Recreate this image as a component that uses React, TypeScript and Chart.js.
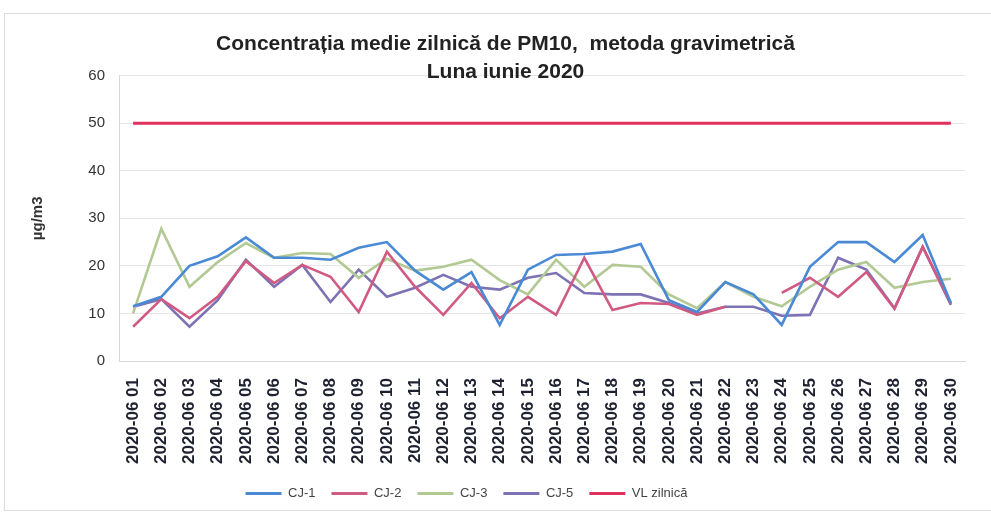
import React, { useEffect, useRef } from "react";
import { Chart, registerables } from "chart.js";

Chart.register(...registerables);

const days: string[] = [
  "01","02","03","04","05","06","07","08","09","10",
  "11","12","13","14","15","16","17","18","19","20",
  "21","22","23","24","25","26","27","28","29","30",
];
const categories: string[] = days.map((d) => "2020-06 " + d);

const cj1: (number | null)[] = [11.5, 13.5, 20, 22, 26, 21.7, 21.7, 21.3, 23.8, 25, 19, 15, 18.7, 7.6, 19.2, 22.3, 22.5, 23, 24.6, 12.8, 10.3, 16.6, 14, 7.6, 19.8, 25, 25, 20.8, 26.5, 12.2];
const cj2: (number | null)[] = [7.2, 13, 9, 13.5, 21, 16.4, 20.2, 17.7, 10.3, 23, 15.6, 9.7, 16.4, 9, 13.5, 9.7, 21.7, 10.7, 12.2, 12, 9.7, 11.4, null, 14.3, 17.5, 13.5, 18.7, 11, 24, 12];
const cj3: (number | null)[] = [10, 27.8, 15.6, 20.8, 24.8, 21.7, 22.7, 22.5, 17.5, 21.5, 19, 19.8, 21.3, 17, 14, 21.3, 15.6, 20.2, 19.8, 14, 11.1, 16.6, 13.5, 11.5, 15.6, 19.2, 20.8, 15.4, 16.6, 17.3];
const cj5: (number | null)[] = [11.4, 13, 7.2, 12.8, 21.3, 15.6, 20.2, 12.4, 19.2, 13.5, 15.4, 18.1, 15.6, 15, 17.5, 18.5, 14.3, 14, 14, 12.2, 10, 11.4, 11.4, 9.5, 9.7, 21.7, 19.2, 11.1, 24, 11.8];
const vlZilnica: number[] = categories.map(() => 50);

const yTicks = { min: 0, max: 60, step: 10 };

const seriesNames = ["CJ-1", "CJ-2", "CJ-3", "CJ-5", "VL zilnică"];
const seriesColors = ["#4a8ad4", "#d05a82", "#b2c994", "#7e72b4", "#e0305c"];

const shiftBoxes = {
  id: "shiftBoxes",
  afterLayout(chart: any) {
    const t = chart.titleBlock;
    if (t) {
      t.left += 19;
      t.right += 19;
    }
    const l = chart.legend;
    if (l) {
      l.left -= 20;
      l.right -= 20;
    }
  },
  beforeDraw(chart: any) {
    const ctx = chart.ctx;
    ctx.save();
    ctx.strokeStyle = "#dcdcdc";
    ctx.lineWidth = 1;
    ctx.strokeRect(4.5, 13.5, chart.width, chart.height - 18);
    ctx.restore();
  },
};

export default function App() {
  const ref = useRef<HTMLCanvasElement | null>(null);

  useEffect(() => {
    document.body.style.margin = "0";
    if (!ref.current) return;
    const values = [cj1, cj2, cj3, cj5, vlZilnica];
    const chart = new Chart(ref.current, {
      type: "line",
      data: {
        labels: categories,
        datasets: values.map((v, i) => ({
          label: seriesNames[i],
          data: v,
          borderColor: seriesColors[i],
          backgroundColor: seriesColors[i],
          borderWidth: i === 4 ? 3 : 2.6,
          pointRadius: 0,
          tension: 0,
          spanGaps: false,
        })),
      },
      plugins: [shiftBoxes],
      options: {
        animation: false,
        responsive: false,
        maintainAspectRatio: false,
        layout: { padding: { left: 8, right: 26, top: 0, bottom: 5 } },
        plugins: {
          title: {
            display: true,
            text: ["Concentrația medie zilnică de PM10,  metoda gravimetrică", "Luna iunie 2020"],
            font: { family: "Liberation Sans", size: 21, weight: "bold", lineHeight: 1.3 },
            color: "#222",
            padding: { top: 31, bottom: -10 },
          },
          legend: {
            position: "bottom",
            labels: {
              font: { family: "Liberation Sans", size: 13 },
              color: "#444",
              boxWidth: 36,
              boxHeight: 3,
              padding: 16,
              generateLabels: (c: any) =>
                c.data.datasets.map((d: any, i: number) => ({
                  text: d.label,
                  fillStyle: d.borderColor,
                  strokeStyle: d.borderColor,
                  lineWidth: 0,
                  hidden: false,
                  datasetIndex: i,
                  fontColor: "#444",
                })),
            },
          },
          tooltip: { enabled: false },
        },
        scales: {
          x: {
            offset: true,
            grid: { display: false },
            border: { color: "#d8d8d8" },
            ticks: {
              minRotation: 90,
              maxRotation: 90,
              autoSkip: false,
              padding: 9,
              color: "#1e2230",
              font: { family: "Liberation Sans", size: 17, weight: "bold" },
            },
            afterFit: (s: any) => {
              s.height = 110;
            },
          },
          y: {
            min: yTicks.min,
            max: yTicks.max,
            ticks: {
              stepSize: yTicks.step,
              padding: 14,
              color: "#333",
              font: { family: "Liberation Sans", size: 15 },
            },
            grid: { color: "#e6e6e6", drawTicks: false },
            border: { color: "#d8d8d8" },
            title: {
              display: true,
              text: "µg/m3",
              color: "#333",
              font: { family: "Liberation Sans", size: 15, weight: "bold" },
              padding: { top: 21, bottom: 0 },
            },
            afterFit: (s: any) => {
              s.width = 111;
            },
          },
        },
      },
    });
    return () => chart.destroy();
  }, []);

  return (
    <div style={{ width: 991, height: 515 }}>
      <canvas ref={ref} width={991} height={515} style={{ width: 991, height: 515 }} />
    </div>
  );
}
